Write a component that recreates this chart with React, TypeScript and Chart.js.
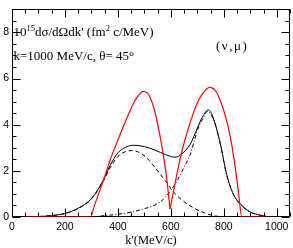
import { useEffect, useRef } from "react";
import { Chart, registerables } from "chart.js";

Chart.register(...registerables);

// ---- data (k' in MeV/c, cross section in 10^-15 fm^2 c/MeV) ----
const totalK = [50, 100, 150, 200, 250, 300, 345, 370, 400, 430, 458, 500, 540, 580, 616, 640, 673, 700, 720, 742, 760, 786, 811, 836, 868, 900, 937, 960];
const totalY = [0, 0.02, 0.06, 0.15, 0.38, 0.8, 1.6, 2.22, 2.78, 3.03, 3.11, 3.05, 2.9, 2.7, 2.59, 2.72, 3.15, 3.85, 4.35, 4.64, 4.3, 3.22, 1.83, 0.99, 0.5, 0.22, 0.08, 0.03];

const qeK = [50, 100, 150, 200, 250, 300, 345, 370, 400, 430, 452, 480, 510, 550, 580, 610, 635, 673, 711, 760, 800];
const qeY = [0, 0.02, 0.06, 0.15, 0.37, 0.78, 1.55, 2.12, 2.62, 2.84, 2.88, 2.8, 2.55, 2.0, 1.55, 1.08, 0.8, 0.48, 0.25, 0.06, 0];

const deltaK = [300, 333, 370, 420, 460, 500, 540, 570, 600, 625, 647, 673, 700, 720, 738, 760, 786, 811, 836, 868, 900, 937, 960];
const deltaY = [0, 0.04, 0.08, 0.15, 0.24, 0.36, 0.52, 0.75, 1.15, 1.6, 2.1, 2.7, 3.75, 4.25, 4.58, 4.25, 3.2, 1.82, 0.98, 0.49, 0.21, 0.07, 0.03];

const rfgLowK = [50, 297, 310, 330, 350, 370, 390, 420, 440, 460, 480, 495, 510, 520, 540, 560, 580, 597];
const rfgLowY = [0, 0, 0.45, 1.1, 1.75, 2.45, 3.05, 3.9, 4.45, 4.95, 5.3, 5.44, 5.38, 5.22, 4.55, 3.45, 2.05, 0.35];

const rfgHighK = [597, 610, 627, 645, 665, 685, 700, 720, 747, 770, 790, 810, 824, 840, 855, 868, 960];
const rfgHighY = [0.35, 1.1, 2.1, 3.0, 3.8, 4.5, 4.95, 5.35, 5.62, 5.45, 4.95, 4.2, 3.5, 2.4, 1.1, 0, 0];

const xTickValues = [0, 200, 400, 600, 800, 1000];
const yTickValues = [0, 2, 4, 6, 8];
const xMin = 0, xMax = 1050, xMinorStep = 50, xMajorStep = 200;
const yMin = 0, yMax = 9, yMinorStep = 0.5, yMajorStep = 2;

const xTitle = "k'(MeV/c)";
const labelLine2 = "k=1000 MeV/c, \u03b8= 45\u00b0";
const labelReaction = "(\u03bd,\u03bc)";

const pts = (xs: number[], ys: number[]) => xs.map((x, i) => ({ x, y: ys[i] }));

const serif = "'Liberation Serif', 'DejaVu Serif', serif";
const sans = "'Liberation Sans', Arial, sans-serif";

const framePlugin = {
  id: "frameTicks",
  beforeDatasetsDraw(chart: any) {
    const { ctx, chartArea: a, scales } = chart;
    const x = scales.x, y = scales.y;
    ctx.save();
    ctx.strokeStyle = "#000";
    ctx.lineWidth = 1;
    const L = Math.round(a.left) + 0.5, R = Math.round(a.right) - 0.5;
    const T = Math.round(a.top) + 0.5, B = Math.round(a.bottom) - 0.5;
    ctx.strokeRect(L, T, R - L, B - T);
    ctx.beginPath();
    for (let v = xMin; v <= xMax + 1e-6; v += xMinorStep) {
      const px = Math.round(x.getPixelForValue(v)) + 0.5;
      const len = Math.abs(v % xMajorStep) < 1e-6 ? 8 : 4;
      ctx.moveTo(px, B); ctx.lineTo(px, B - len);
      ctx.moveTo(px, T); ctx.lineTo(px, T + len);
    }
    for (let v = yMin; v <= yMax + 1e-6; v += yMinorStep) {
      const py = Math.round(y.getPixelForValue(v)) + 0.5;
      const len = Math.abs(v % yMajorStep) < 1e-6 ? 8 : 4;
      ctx.moveTo(L, py); ctx.lineTo(L + len, py);
      ctx.moveTo(R, py); ctx.lineTo(R - len, py);
    }
    ctx.stroke();

    // annotations
    ctx.fillStyle = "#000";
    ctx.textBaseline = "alphabetic";
    ctx.textAlign = "left";
    let cx = 13.5;
    const base1 = 36;
    const seg = (t: string, size: number, dy: number) => {
      ctx.font = `${size}px ${serif}`;
      ctx.fillText(t, cx, base1 + dy);
      cx += ctx.measureText(t).width;
    };
    seg("10", 13, 0);
    seg("15", 8.5, -5.5);
    seg("d\u03c3/d\u03a9dk' (fm", 13, 0);
    seg("2", 8.5, -5.5);
    seg(" c/MeV)", 13, 0);

    ctx.font = `13px ${serif}`;
    ctx.fillText(labelLine2, 13.5, 59.5);
    (ctx as any).letterSpacing = "1.5px";
    ctx.fillText(labelReaction, 216, 49.5);
    (ctx as any).letterSpacing = "0px";
    ctx.restore();
  },
};

export default function App() {
  const ref = useRef<HTMLCanvasElement>(null);
  useEffect(() => {
    if (!ref.current) return;
    const chart = new Chart(ref.current, {
      type: "line",
      data: {
        datasets: [
          { data: pts(rfgLowK, rfgLowY), borderColor: "#ff0000", borderWidth: 1.2, pointRadius: 0, cubicInterpolationMode: "monotone" },
          { data: pts(rfgHighK, rfgHighY), borderColor: "#ff0000", borderWidth: 1.2, pointRadius: 0, cubicInterpolationMode: "monotone" },
          { data: pts(qeK, qeY), borderColor: "#000", borderWidth: 1, borderDash: [4, 3], pointRadius: 0, cubicInterpolationMode: "monotone" },
          { data: pts(deltaK, deltaY), borderColor: "#000", borderWidth: 1, borderDash: [4, 2, 1, 2], pointRadius: 0, cubicInterpolationMode: "monotone" },
          { data: pts(totalK, totalY), borderColor: "#000", borderWidth: 1, pointRadius: 0, cubicInterpolationMode: "monotone" },
        ],
      } as any,
      options: {
        animation: false,
        responsive: true,
        maintainAspectRatio: false,
        layout: { padding: { left: 0, right: 3, top: 2, bottom: 0 } },
        plugins: { legend: { display: false }, tooltip: { enabled: false } },
        scales: {
          x: {
            type: "linear",
            min: xMin,
            max: xMax,
            grid: { display: false, drawTicks: false },
            border: { display: false },
            afterBuildTicks: (s: any) => { s.ticks = xTickValues.map((v) => ({ value: v })); },
            afterFit: (s: any) => { s.height = 31; },
            ticks: { color: "#000", padding: 4, maxRotation: 0, callback: (v: any) => String(v), font: { family: sans, size: 10.5 } },
            title: { display: true, text: xTitle, color: "#000", padding: { top: 0, bottom: 0 }, font: { family: serif, size: 12.5 } },
          },
          y: {
            type: "linear",
            min: yMin,
            max: yMax,
            grid: { display: false, drawTicks: false },
            border: { display: false },
            afterBuildTicks: (s: any) => { s.ticks = yTickValues.map((v) => ({ value: v })); },
            afterFit: (s: any) => { s.width = 12; },
            ticks: { color: "#000", padding: 3, callback: (v: any) => String(v), font: { family: sans, size: 10.5 } },
          },
        },
      } as any,
      plugins: [framePlugin],
    });
    return () => chart.destroy();
  }, []);
  return (
    <div style={{ position: "absolute", left: 0, top: 0, width: 293, height: 248, background: "#fff" }}>
      <canvas ref={ref} />
    </div>
  );
}
